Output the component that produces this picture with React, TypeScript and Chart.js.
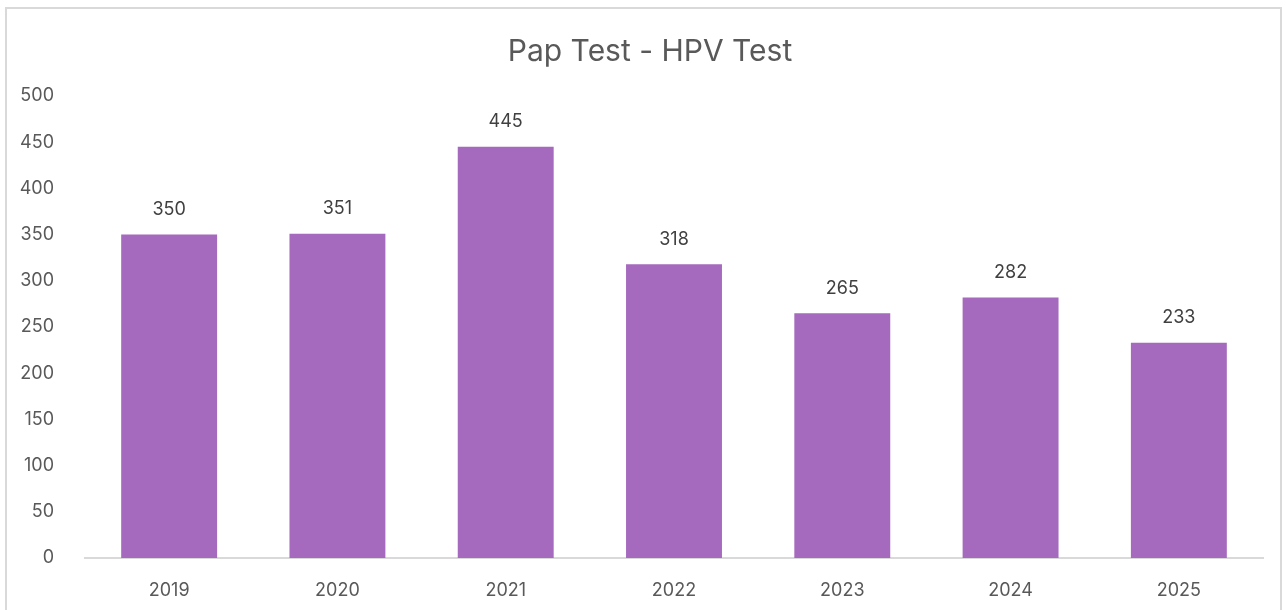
import React, { useEffect, useRef } from "react";
import { Chart, registerables } from "chart.js";

Chart.register(...registerables);

const title = "Pap Test - HPV Test";
const years = ["2019", "2020", "2021", "2022", "2023", "2024", "2025"];
const counts = [350, 351, 445, 318, 265, 282, 233];
const yTicks = [0, 50, 100, 150, 200, 250, 300, 350, 400, 450, 500];

const FONT = "Inter, 'Open Sans', 'Liberation Sans', sans-serif";
const TEXT = "#595959";

const valueLabels = {
  id: "valueLabels",
  afterDatasetsDraw(chart: any) {
    const ctx = chart.ctx;
    const meta = chart.getDatasetMeta(0);
    ctx.save();
    ctx.font = `18px ${FONT}`;
    ctx.fillStyle = "#404040";
    ctx.textAlign = "center";
    ctx.textBaseline = "middle";
    meta.data.forEach((bar: any, i: number) => {
      ctx.fillText(String(chart.data.datasets[0].data[i]), bar.x, bar.y - 25);
    });
    ctx.restore();
  },
};

const titlePlugin = {
  id: "customTitle",
  afterDraw(chart: any) {
    const ctx = chart.ctx;
    ctx.save();
    ctx.font = `30px ${FONT}`;
    ctx.fillStyle = TEXT;
    ctx.textAlign = "center";
    ctx.textBaseline = "middle";
    ctx.fillText(title, 650, 52);
    ctx.restore();
  },
};

export default function App() {
  const ref = useRef<HTMLCanvasElement | null>(null);
  useEffect(() => {
    if (!ref.current) return;
    const chart = new Chart(ref.current, {
      type: "bar",
      data: {
        labels: years,
        datasets: [
          {
            data: counts,
            backgroundColor: "#A569BD",
            categoryPercentage: 0.57,
            barPercentage: 1,
          },
        ],
      },
      options: {
        animation: false,
        responsive: false,
        maintainAspectRatio: false,
        layout: { padding: { top: 96, left: 0, right: 1286 - 1263, bottom: 0 } },
        plugins: { legend: { display: false }, tooltip: { enabled: false }, title: { display: false } },
        scales: {
          x: {
            grid: { display: false },
            border: { display: true, color: "#d9d9d9", width: 2 },
            ticks: { color: TEXT, font: { family: FONT, size: 18 }, padding: 14 },
            afterFit(scale: any) {
              scale.height = 610 - 558;
            },
          },
          y: {
            min: 0,
            max: 500,
            afterBuildTicks(scale: any) {
              scale.ticks = yTicks.map((v) => ({ value: v }));
            },
            grid: { display: false },
            border: { display: false },
            ticks: { color: TEXT, font: { family: FONT, size: 18 }, padding: 23 },
            afterFit(scale: any) {
              scale.width = 85;
            },
          },
        },
      },
      plugins: [valueLabels, titlePlugin],
    });
    return () => chart.destroy();
  }, []);
  return (
    <div style={{ position: "fixed", left: 0, top: 0, width: 1286, height: 610, background: "#fff" }}>
      <div
        style={{
          position: "absolute",
          left: 5,
          top: 7,
          width: 1277,
          height: 620,
          border: "2px solid #d9d9d9",
          boxSizing: "border-box",
        }}
      />
      <canvas ref={ref} width={1286} height={610} style={{ position: "absolute", left: 0, top: 0 }} />
    </div>
  );
}
